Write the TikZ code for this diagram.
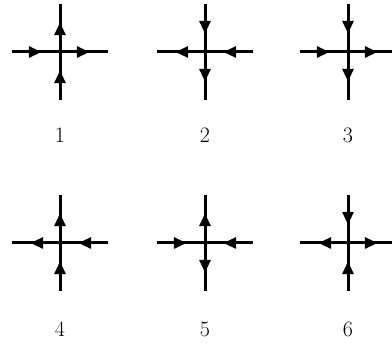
\documentclass[tikz,border=0pt]{standalone}
\usepackage{tikz}
\usetikzlibrary{arrows.meta,decorations.markings,calc}

\begin{document}
\begin{tikzpicture}[
    x=1pt, y=1pt,
    arm/.style={line width=3pt, postaction={decorate},
        decoration={markings, mark=at position 0.62 with {\arrow{Triangle[length=13pt,width=11pt]}}}},
    num/.style={font=\fontsize{22}{26}\selectfont, inner sep=0pt}
]
\useasboundingbox (0,0) rectangle (392,345);
% centres and arm ends of the six crosses
\foreach \i/\cx/\cy in {1/60/293, 2/205/293, 3/348/293, 4/60/102, 5/205/102, 6/348/102} {
  \coordinate (c\i) at (\cx,\cy);
  \coordinate (c\i n) at (\cx,\cy+48);
  \coordinate (c\i s) at (\cx,\cy-48);
  \coordinate (c\i e) at (\cx+48,\cy);
  \coordinate (c\i w) at (\cx-48,\cy);
}
% 1
\draw[arm] (c1w) -- (c1);
\draw[arm] (c1) -- (c1e);
\draw[arm] (c1) -- (c1n);
\draw[arm] (c1s) -- (c1);
% 2
\draw[arm] (c2n) -- (c2);
\draw[arm] (c2) -- (c2s);
\draw[arm] (c2) -- (c2w);
\draw[arm] (c2e) -- (c2);
% 3
\draw[arm] (c3n) -- (c3);
\draw[arm] (c3) -- (c3s);
\draw[arm] (c3w) -- (c3);
\draw[arm] (c3) -- (c3e);
% 4
\draw[arm] (c4) -- (c4n);
\draw[arm] (c4s) -- (c4);
\draw[arm] (c4) -- (c4w);
\draw[arm] (c4e) -- (c4);
% 5
\draw[arm] (c5) -- (c5n);
\draw[arm] (c5) -- (c5s);
\draw[arm] (c5w) -- (c5);
\draw[arm] (c5e) -- (c5);
% 6
\draw[arm] (c6n) -- (c6);
\draw[arm] (c6s) -- (c6);
\draw[arm] (c6) -- (c6w);
\draw[arm] (c6) -- (c6e);
% labels
\node[num] (l1) at (60,209.5) {1};
\node[num] (l2) at (205,209.5) {2};
\node[num] (l3) at (348,209.5) {3};
\node[num] (l4) at (60,15.5) {4};
\node[num] (l5) at (205,15.5) {5};
\node[num] (l6) at (348,15.5) {6};
\end{tikzpicture}
\end{document}
